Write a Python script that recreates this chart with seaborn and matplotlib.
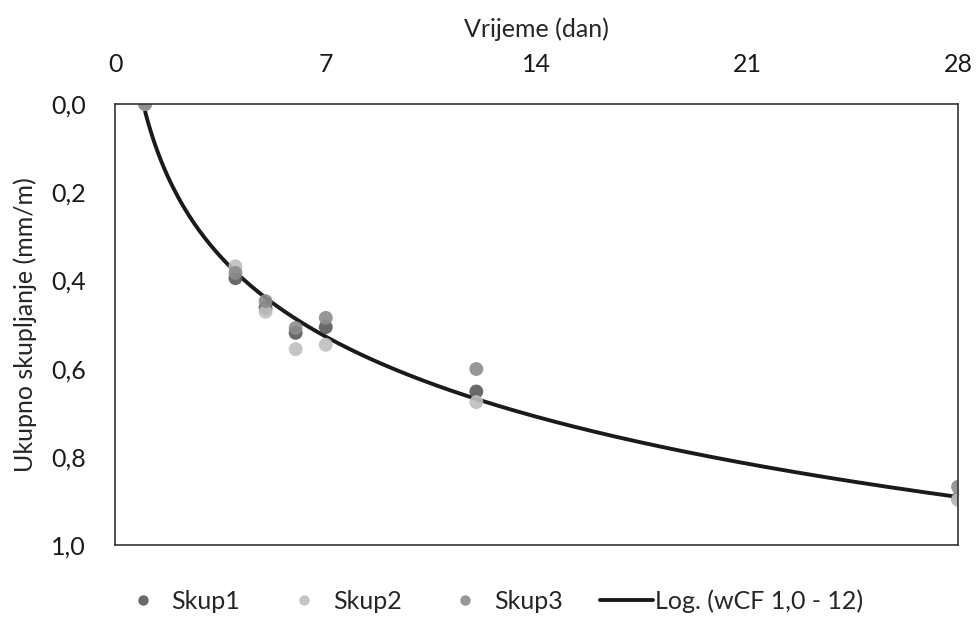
import numpy as np
import pandas as pd
import matplotlib
matplotlib.use("Agg")
import matplotlib.pyplot as plt
import seaborn as sns
from matplotlib.ticker import FuncFormatter

# Data
dani = [1, 4, 5, 6, 7, 12, 28]
skup1 = [0.0, 0.395, 0.462, 0.519, 0.506, 0.652, 0.895]
skup2 = [0.0, 0.368, 0.471, 0.556, 0.546, 0.676, 0.898]
skup3 = [0.0, 0.383, 0.447, 0.508, 0.485, 0.601, 0.868]
serije = ["Skup1", "Skup2", "Skup3"]
boje = ["#595959", "#bfbfbf", "#8c8c8c"]
x_ticks = [0, 7, 14, 21, 28]
y_ticks = [0.0, 0.2, 0.4, 0.6, 0.8, 1.0]

df = pd.DataFrame({
    "dan": dani * 3,
    "skupljanje": skup1 + skup2 + skup3,
    "serija": ["Skup1"] * 7 + ["Skup2"] * 7 + ["Skup3"] * 7,
})

# logarithmic trend fitted on all points
a, b = np.polyfit(np.log(df["dan"]), df["skupljanje"], 1)
xs = np.linspace(1, 28, 300)
trend = pd.DataFrame({"dan": xs, "skupljanje": a * np.log(xs) + b})

sns.set_style("white")
plt.rcParams["font.family"] = ["Lato", "DejaVu Sans"]

fig = plt.figure(figsize=(9.78, 6.34), dpi=100)
ax = fig.add_axes([0.1176, 0.1404, 0.8620, 0.6956])

sns.lineplot(data=trend, x="dan", y="skupljanje", color="#1a1a1a", linewidth=2.8,
             ax=ax, label="Log. (wCF 1,0 - 12)", zorder=1)
sns.scatterplot(data=df, x="dan", y="skupljanje", hue="serija", hue_order=serije,
                palette=boje, s=100, edgecolor="none", alpha=0.9, ax=ax, zorder=2)

ax.set_xlim(0, 28)
ax.set_ylim(1.0, 0.0)
ax.set_xticks(x_ticks)
ax.set_yticks(y_ticks)
ax.yaxis.set_major_formatter(FuncFormatter(lambda v, p: f"{v:.1f}".replace(".", ",")))
ax.xaxis.tick_top()
ax.xaxis.set_label_position("top")
ax.tick_params(axis="both", length=0, labelsize=18, colors="#1a1a1a")
ax.tick_params(axis="x", pad=20)
ax.tick_params(axis="y", pad=21)
ax.set_xlabel("Vrijeme (dan)", fontsize=18, labelpad=12)
ax.set_ylabel("Ukupno skupljanje (mm/m)", fontsize=18, labelpad=10)

for s in ax.spines.values():
    s.set_color("#333333")
    s.set_linewidth(1.2)

h, l = ax.get_legend_handles_labels()
order = [l.index(n) for n in serije] + [l.index("Log. (wCF 1,0 - 12)")]
ax.get_legend().remove()
fig.legend([h[i] for i in order], [l[i] for i in order], loc="center",
           bbox_to_anchor=(0.501, 0.052), ncol=4, frameon=False, fontsize=18,
           handlelength=2.1, handletextpad=0.1, columnspacing=1.5, markerscale=0.75)

fig.savefig("out.png", dpi=100)
